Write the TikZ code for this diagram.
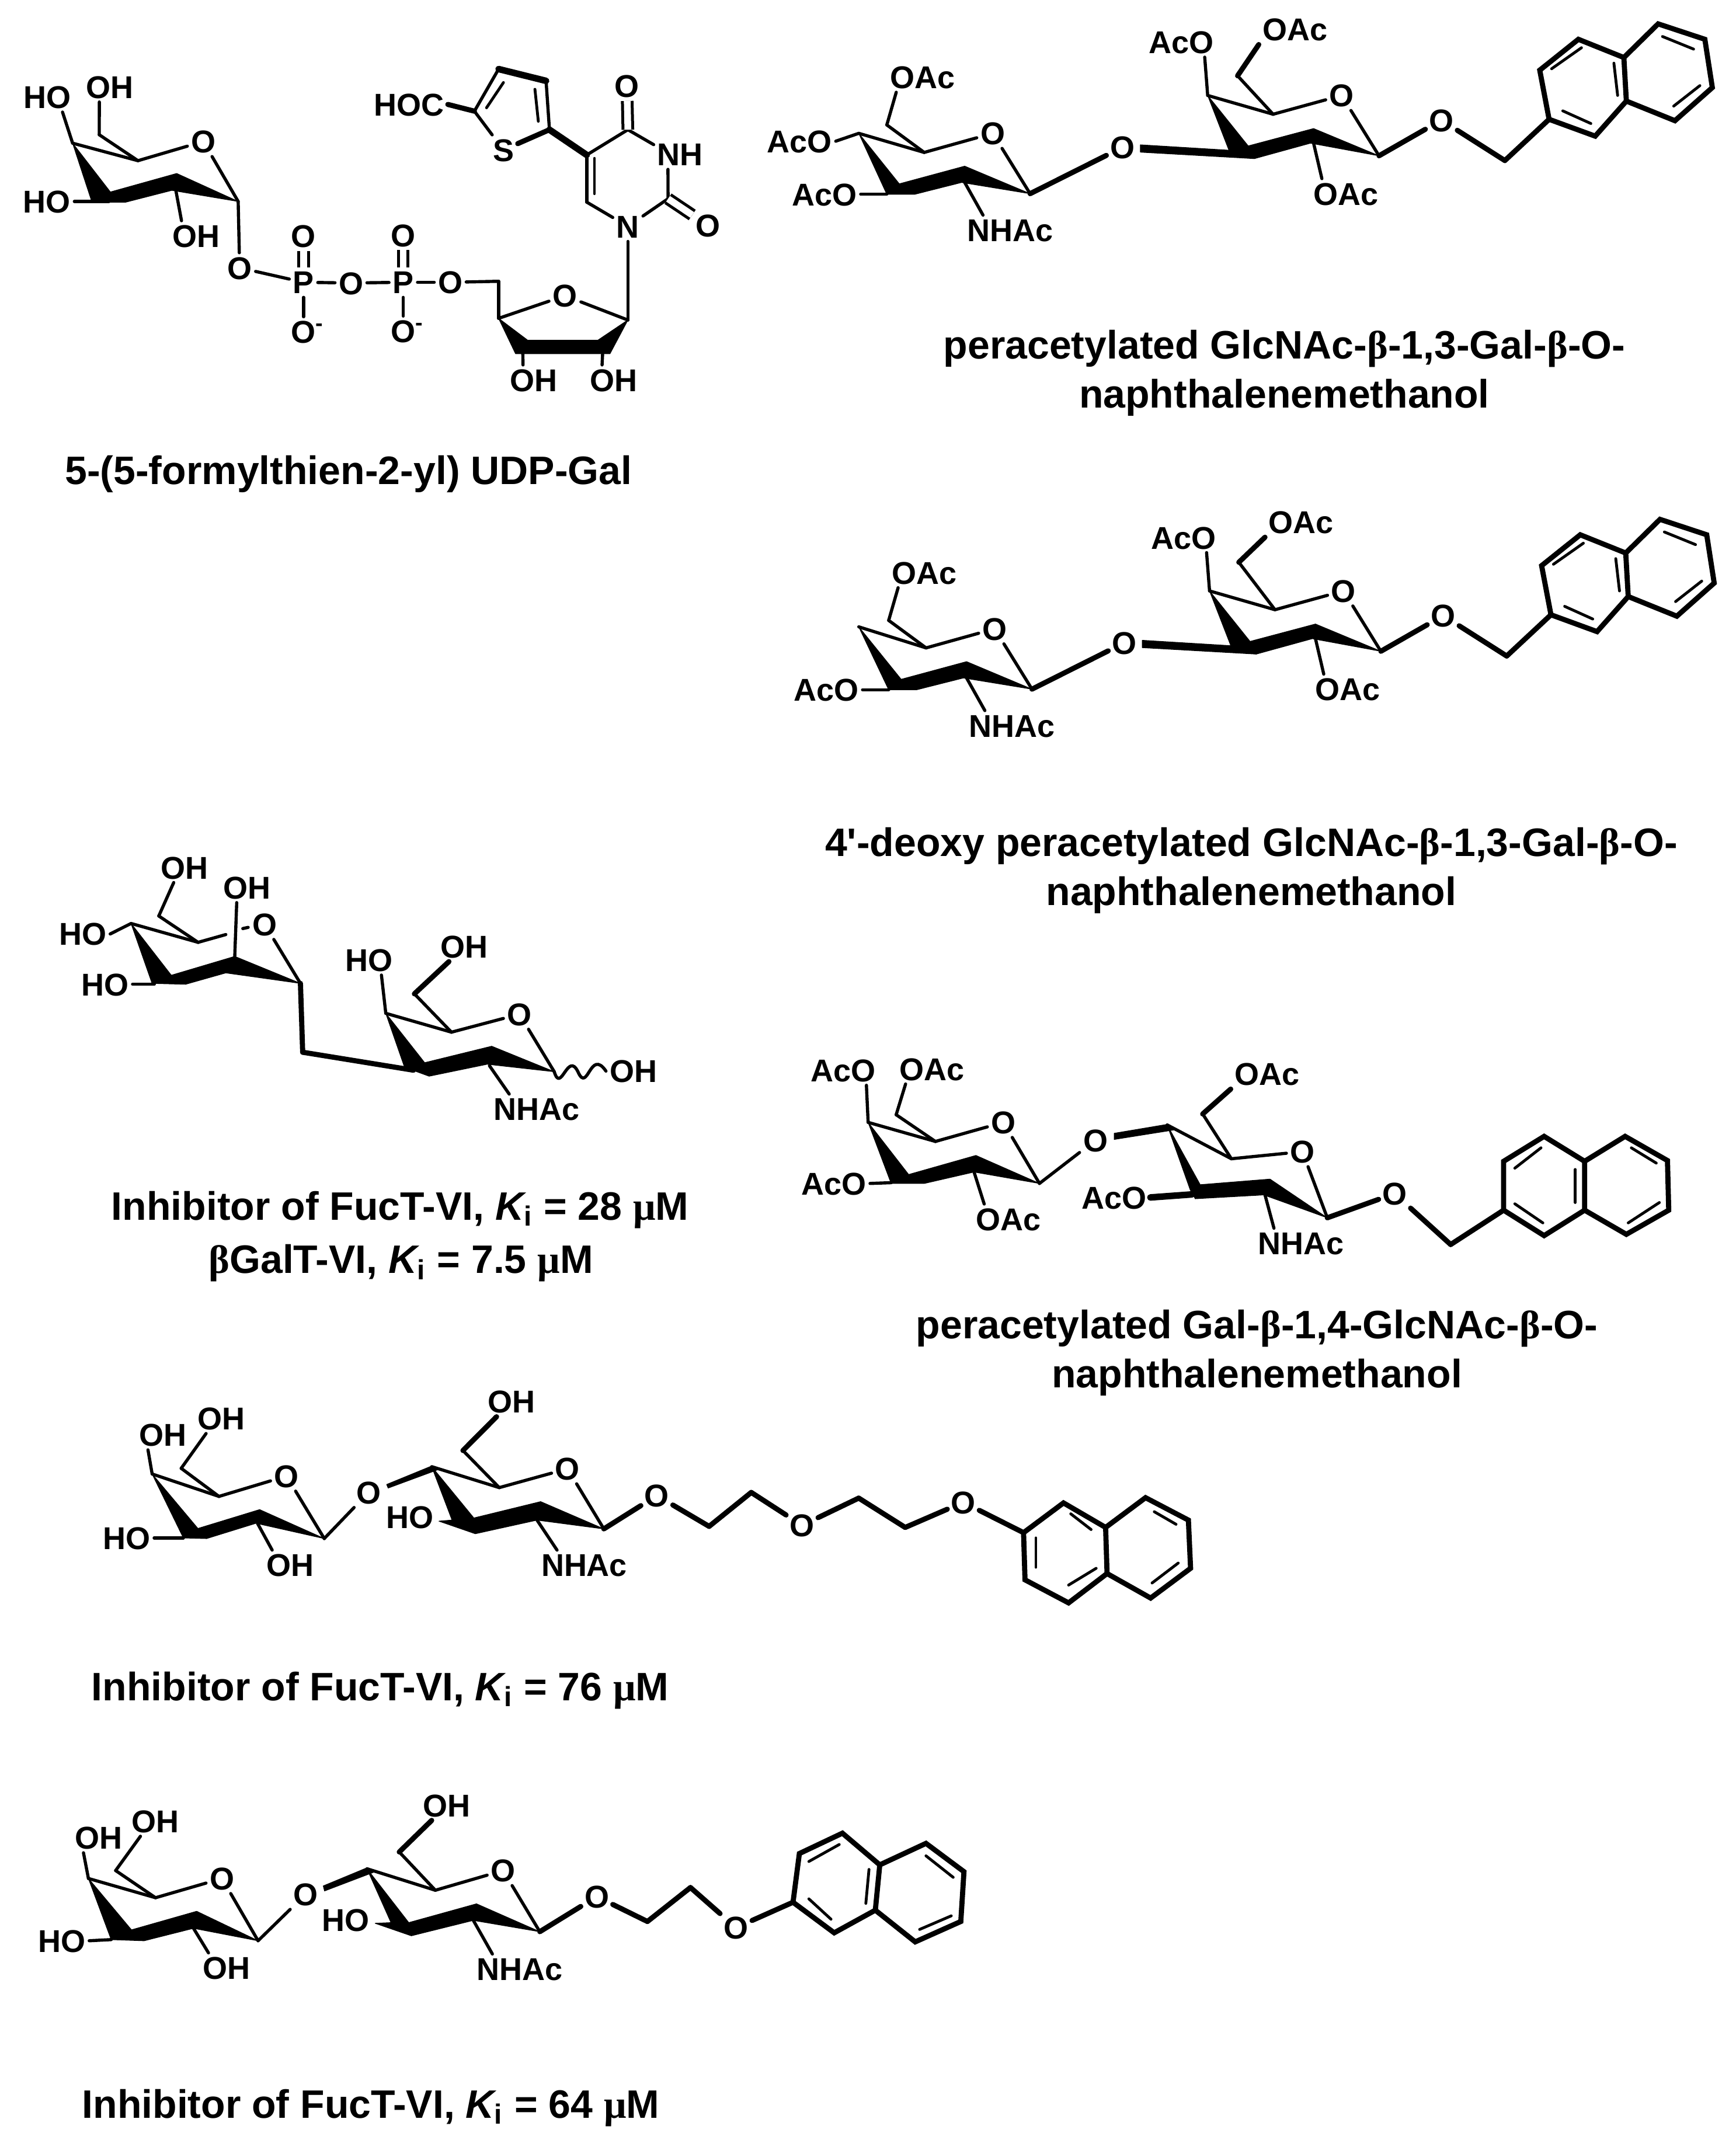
\documentclass[tikz,border=0pt]{standalone}
\usepackage{fontspec}
\setmainfont{Liberation Sans}
\newfontfamily\grk{Liberation Serif}
\newfontfamily\nomap{Liberation Sans}
\newcommand\Lb[3]{\node[lbl] (#1) at (#2) {#3};}
\newcommand\Cc[2]{\coordinate (#1) at (#2);}
\newcommand\Be{{\grk β}}
\newcommand\Mu{{\grk μ}}
\newcommand\Ki{{\itshape K}\textsubscript{\normalfont\bfseries i}}
\newcommand\Om{O\rlap{\textsuperscript{-}}}
\tikzset{
 panel/.style n args={4}{shift={(#1*0.25pt,-#2*0.25pt)},x=#3*0.25pt/1568,y=-#4*0.25pt/1560},
 lbl/.style={font=\fontsize{13.5}{14}\selectfont\bfseries,inner sep=1.4pt,text height=9.7pt,text depth=0pt},
 capt/.style={font=\fontsize{17}{19}\selectfont\bfseries,anchor=base,inner sep=0pt},
 bond/.style={line width=1.35pt,line cap=round,line join=round},
 bondm/.style={line width=2.2pt,line cap=round,line join=round},
 bondt/.style={line width=2.8pt,line cap=round,line join=round},
 dbl/.style={line width=1.25pt,double distance=2.9pt},
 inner/.style={line width=1.2pt,line cap=round},
 wedge/.style={fill=black,draw=black,line width=.3pt,line join=round},
}
% shared body of the two GlcNAc-Gal naphthalenemethanol structures
\newcommand\Disacc[4]{% prefix, g4 position, h6 position, OAc2 position
 \Lb{#1oa1}{262,275}{OAc} \Lb{#1ao2}{105,692}{AcO} \Lb{#1nh}{403,820}{NHAc}
 \Lb{#1ro}{375,475}{O} \Lb{#1og}{583,525}{O} \Lb{#1ao3}{678,150}{AcO}
 \Lb{#1oa2}{#4}{OAc} \Lb{#1ro2}{935,340}{O} \Lb{#1oa3}{942,690}{OAc} \Lb{#1oe}{1095,428}{O}
 \Cc{#1g4}{#2} \Cc{#1g5}{265,543} \Cc{#1g6}{205,445} \Cc{#1g2}{330,592} \Cc{#1g1}{435,690}
 \Cc{#1g3}{205,692} \Cc{#1gn}{330,650}
 \Cc{#1h4}{720,340} \Cc{#1h5}{825,407} \Cc{#1h6}{#3} \Cc{#1h2}{890,458} \Cc{#1h1}{995,555}
 \Cc{#1hn}{890,510} \Cc{#1ch}{1197,572} \Cc{#1nf}{1268,425}
 \fill[wedge] (#1g4) -- (#1g3) -- (250,692) -- (325,650) -- (#1g1) -- (#1g2) -- (225,655) -- cycle;
 \fill[wedge] (#1h4) -- (755,540) -- (795,565) -- (885,510) -- (#1h1) -- (#1h2) -- (785,520) -- cycle;
 \fill[wedge] (612,516) -- (760,536) -- (795,565) -- (612,542) -- cycle;
 \draw[bond] (#1g4) -- (#1g5); \draw[bond] (#1g5) -- (#1ro); \draw[bond] (#1ro) -- (#1g1);
 \draw[bond] (#1g5) -- (#1g6); \draw[bond] (#1g6) -- (#1oa1.210);
 \draw[bond] (#1ao2.east) -- (#1g3); \draw[bond] (#1gn) -- (#1nh.151);
 \draw[bondm] (#1g1) -- (#1og);
 \draw[bond] (#1h4) -- (#1h5); \draw[bond] (#1h5) -- (#1ro2); \draw[bond] (#1ro2) -- (#1h1);
 \draw[bond] (#1h4) -- (#1ao3.-33); \draw[bond] (#1h5) -- (#1h6); \draw[bondm] (#1h6) -- (#1oa2.south west);
 \draw[bond] (#1hn) -- (#1oa3.148); \draw[bondm] (#1h1) -- (#1oe);
 \draw[bondm] (#1oe) -- (#1ch); \draw[bondm] (#1ch) -- (#1nf);
 \draw[bondm,line join=miter] (#1nf) -- (1253,250) -- (1315,140) -- (1388,205) -- (1392,360) -- (1342,485) -- cycle;
 \draw[bondm,line join=miter] (1388,205) -- (1443,85) -- (1518,140) -- (1530,312) -- (1470,430) -- (1392,360);
 \draw[inner] (1272,245) -- (1320,170); \draw[inner] (1372,225) -- (1378,340); \draw[inner] (1290,395) -- (1335,440);
 \draw[inner] (1450,130) -- (1500,175); \draw[inner] (1510,305) -- (1468,378);
}
\begin{document}
\begin{tikzpicture}
\useasboundingbox (0,0) rectangle (743.25pt,-916.25pt);
\fill[white] (0,0) rectangle (743.25pt,-916.25pt);

% ---------- A: UDP-Gal
\begin{scope}[panel={0}{0}{1300}{900}]
 \Lb{aho1}{98,288}{HO} \Lb{aoh1}{227,258}{OH} \Lb{aro}{420,420}{O} \Lb{aho2}{97,598}{HO}
 \Lb{aoh2}{405,700}{OH} \Lb{ao1}{495,795}{O} \Lb{ap1}{627,838}{P} \Lb{aod1}{627,700}{O}
 \Lb{aom1}{627,985}{\Om} \Lb{ao2}{725,840}{O} \Lb{ap2}{833,838}{P} \Lb{aod2}{833,698}{O}
 \Lb{aom2}{833,983}{\Om} \Lb{ao3}{930,838}{O} \Lb{aro2}{1167,878}{O} \Lb{aoh3}{1103,1128}{OH}
 \Lb{aoh4}{1268,1128}{OH} \Lb{an1}{1297,672}{N} \Lb{anh}{1405,458}{NH} \Lb{ao6}{1463,670}{O}
 \Lb{ao4}{1295,255}{O} \Lb{as}{1040,445}{S} \Lb{ahoc}{845,310}{HOC}
 \Cc{a4}{150,425} \Cc{a5}{285,477} \Cc{a6}{205,400} \Cc{a1}{492,598} \Cc{a2}{360,540} \Cc{a3}{225,598}
 \Cc{b5}{1030,835} \Cc{b4}{1030,945} \Cc{b1}{1297,950} \Cc{b3}{1080,1045} \Cc{b2}{1245,1045}
 \Cc{c6}{1212,600} \Cc{c5}{1212,460} \Cc{c4}{1297,385} \Cc{c2}{1380,590}
 \Cc{t2}{1135,385} \Cc{t3}{1128,240} \Cc{t4}{1030,205} \Cc{t5}{980,330}
 \fill[wedge] (a4) -- (190,600) -- (260,600) -- (355,565) -- (a1) -- (365,515) -- (228,570) -- cycle;
 \fill[wedge] (b4) -- (1090,1010) -- (1235,1010) -- (b1) -- (1260,1050) -- (1065,1050) -- cycle;
 \draw[bond] (a4) -- (a5); \draw[bond] (a5) -- (aro); \draw[bond] (aro) -- (a1); \draw[bond] (a5) -- (a6);
 \draw[bond] (a6) -- (aoh1.235); \draw[bond] (a4) -- (aho1.-45); \draw[bond] (aho2.east) -- (a3);
 \draw[bond] (a2) -- (aoh2.134); \draw[bond] (a1) -- (ao1); \draw[bond] (ao1) -- (ap1);
 \draw[bond] (ap1) -- (ao2); \draw[bond] (ao2) -- (ap2); \draw[bond] (ap2) -- (ao3);
 \draw[bond] (ap1) -- (aom1); \draw[bond] (ap2) -- (aom2);
 \draw[dbl] (ap1) -- (aod1); \draw[dbl] (ap2) -- (aod2);
 \draw[bond] (ao3) -- (b5); \draw[bond] (b5) -- (b4); \draw[bond] (b4) -- (aro2); \draw[bond] (aro2) -- (b1);
 \draw[bond] (b3) -- (aoh3.126); \draw[bond] (b2) -- (aoh4.128); \draw[bond] (an1) -- (b1);
 \draw[bond] (an1) -- (c6); \draw[bond] (c6) -- (c5); \draw[bond] (c5) -- (c4); \draw[bond] (c4) -- (anh.160);
 \draw[bond] (anh.231) -- (c2); \draw[bond] (c2) -- (an1);
 \draw[inner] (1228,470) -- (1228,575);
 \draw[dbl] (c4) -- (ao4); \draw[dbl] (c2) -- (ao6);
 \draw[bondm] (ahoc.east) -- (t5); \draw[bond] (t5) -- (as); \draw[bondm] (as) -- (t2);
 \draw[bond] (t5) -- (t4); \draw[bondt] (t4) -- (t3); \draw[bond] (t3) -- (t2);
 \draw[bondt] (t2) -- (c5);
 \draw[inner] (1005,320) -- (1040,245); \draw[inner] (1105,265) -- (1112,360);
 \node[capt] (acap) at (720,1438) {5-(5-formylthien-2-yl) UDP-Gal};
\end{scope}

% ---------- B
\begin{scope}[panel={1300}{0}{1673}{750}]
 \Disacc{b}{160,475}{768,270}{860,105}
 \Lb{bao1}{65,503}{AcO}
 \draw[bond] (bao1.east) -- (bg4);
 \node[capt] (bcap1) at (843,1278) {peracetylated GlcNAc-\Be-1,3-Gal-\Be-O-};
 \node[capt] (bcap2) at (843,1452) {naphthalenemethanol};
\end{scope}

% ---------- C
\begin{scope}[panel={1300}{850}{1673}{750}]
 \begin{scope}[shift={(3,-3)}]
 \Disacc{k}{157,468}{767,238}{867,95}
 \end{scope}
 \node[capt] (ccap1) at (790,1283) {4{\nomap\bfseries '}-deoxy peracetylated GlcNAc-\Be-1,3-Gal-\Be-O-};
 \node[capt] (ccap2) at (790,1457) {naphthalenemethanol};
\end{scope}

% ---------- D
\begin{scope}[panel={1300}{1750}{1673}{680}]
 \Lb{dao1}{135,190}{AcO} \Lb{doa1}{277,185}{OAc} \Lb{dro}{392,395}{O} \Lb{dao2}{120,635}{AcO}
 \Lb{dog}{540,465}{O} \Lb{doa3}{400,775}{OAc} \Lb{doa2}{815,205}{OAc} \Lb{dro2}{872,510}{O}
 \Lb{dao3}{570,690}{AcO} \Lb{dnh}{870,870}{NHAc} \Lb{doe}{1020,675}{O}
 \Cc{dg4}{175,395} \Cc{dg5}{283,470} \Cc{dg6}{220,365} \Cc{dg3}{212,632} \Cc{dg2}{345,590} \Cc{dg1}{450,635}
 \Cc{dh4}{655,405} \Cc{dh5}{758,538} \Cc{dh6}{712,362} \Cc{dh1}{912,770} \Cc{dh3}{695,678} \Cc{dh2}{812,680}
 \Cc{dch}{1110,875} \Cc{dnf}{1195,740}
 \fill[wedge] (dg4) -- (212,635) -- (265,635) -- (345,590) -- (dg1) -- (348,525) -- (240,600) -- cycle;
 \fill[wedge] (dh4) -- (692,660) -- (700,695) -- (810,680) -- (dh1) -- (820,618) -- (708,640) -- cycle;
 \fill[wedge] (570,438) -- (655,403) -- (665,425) -- (570,462) -- cycle;
 \draw[bond] (dg4) -- (dg5); \draw[bond] (dg5) -- (dro); \draw[bond] (dro) -- (dg1); \draw[bond] (dg5) -- (dg6);
 \draw[bond] (dg6) -- (doa1.210); \draw[bond] (dg4) -- (dao1.-33); \draw[bond] (dao2.east) -- (dg3);
 \draw[bond] (dg2) -- (doa3.148); \draw[bond] (dg1) -- (dog);
 \draw[bond] (dh4) -- (dh5); \draw[bond] (dh5) -- (dro2); \draw[bond] (dro2) -- (dh1); \draw[bond] (dh5) -- (dh6);
 \draw[bondm] (dh6) -- (doa2.south west); \draw[bondt] (dao3.east) -- (dh3); \draw[bond] (dh2) -- (dnh.151);
 \draw[bondm] (dh1) -- (doe); \draw[bondm] (doe) -- (dch); \draw[bondm] (dch) -- (dnf);
 \draw[bondm,line join=miter] (dnf) -- (1195,548) -- (1260,450) -- (1325,548) -- (1325,740) -- (1260,840) -- cycle;
 \draw[bondm,line join=miter] (1325,548) -- (1390,450) -- (1458,545) -- (1460,740) -- (1392,835) -- (1325,740);
 \draw[inner] (1213,575) -- (1255,495); \draw[inner] (1310,580) -- (1310,710); \draw[inner] (1213,715) -- (1258,790);
 \draw[inner] (1400,495) -- (1440,555); \draw[inner] (1445,710) -- (1395,790);
 \node[capt] (dcap1) at (799,1245) {peracetylated Gal-\Be-1,4-GlcNAc-\Be-O-};
 \node[capt] (dcap2) at (799,1437) {naphthalenemethanol};
\end{scope}

% ---------- E
\begin{scope}[panel={50}{1420}{1200}{800}]
 \Lb{eoh1}{347,128}{OH} \Lb{eoh2}{488,195}{OH} \Lb{eho1}{120,350}{HO} \Lb{ero}{527,318}{O}
 \Lb{eho2}{170,518}{HO} \Lb{eho3}{760,437}{HO} \Lb{eoh3}{973,392}{OH} \Lb{ero2}{1097,618}{O}
 \Lb{eoh4}{1352,808}{OH} \Lb{enh}{1135,935}{NHAc}
 \Cc{eg4}{228,315} \Cc{eg5}{378,378} \Cc{eg6}{290,290} \Cc{eg1}{607,515} \Cc{eg2}{460,425} \Cc{eg3}{280,518}
 \Cc{eg5b}{440,352} \Cc{ech}{612,745} \Cc{eh3}{860,805}
 \Cc{eh4}{798,615} \Cc{eh5}{945,678} \Cc{eh6}{862,550} \Cc{eh2}{1030,790} \Cc{eh1}{1175,810}
 \fill[wedge] (eg4) -- (275,515) -- (350,518) -- (440,480) -- (eg1) -- (460,425) -- (318,488) -- cycle;
 \fill[wedge] (eh4) -- (840,795) -- (895,825) -- (1025,785) -- (eh1) -- (1035,725) -- (885,780) -- cycle;
 \draw[bond] (eg4) -- (eg5); \draw[bond] (eg5) -- (eg6); \draw[bond] (eg6) -- (eoh1.235);
 \draw[bond] (eg5) -- (eg5b); \draw[bond] (478,332) -- (490,328);
 \draw[bond] (eg2) -- (eoh2.235); \draw[bond] (ero) -- (eg1);
 \draw[bond] (eho1.east) -- (eg4); \draw[bond] (eho2.east) -- (eg3);
 \draw[bondm] (eg1) -- (ech); \draw[bondm] (ech) -- (eh3);
 \draw[bond] (eh4) -- (eh5); \draw[bond] (eh5) -- (eh6); \draw[bondm] (eh6) -- (eoh3.225);
 \draw[bond] (eh5) -- (ero2); \draw[bond] (ero2) -- (eh1);
 \draw[bond] (eh4) -- (eho3.-50); \draw[bond] (eh2) -- (enh.151);
 \draw[bond] (eh1) .. controls (1190,885) and (1205,740) .. (1228,810)
   .. controls (1250,885) and (1255,730) .. (eoh4.west);
 \node[capt] (ecap1) at (830,1305) {Inhibitor of FucT-VI, \Ki{} = 28 \Mu M};
 \node[capt] (ecap2) at (832,1483) {\Be GalT-VI, \Ki{} = 7.5 \Mu M};
\end{scope}

% ---------- F
\begin{scope}[panel={130}{2370}{1950}{560}]
 \Lb{foh1}{120,243}{OH} \Lb{foh2}{200,165}{OH} \Lb{fro}{290,440}{O} \Lb{fho1}{70,735}{HO}
 \Lb{foh3}{295,865}{OH} \Lb{fog}{403,518}{O} \Lb{fho2}{460,635}{HO} \Lb{foh4}{600,85}{OH}
 \Lb{fro2}{677,405}{O} \Lb{fnh}{700,865}{NHAc} \Lb{foe}{800,533}{O} \Lb{foe2}{1000,675}{O}
 \Lb{foe3}{1222,565}{O}
 \Cc{fg4}{105,430} \Cc{fg5}{197,537} \Cc{fg6}{145,403} \Cc{fg3}{148,735} \Cc{fg2}{250,665} \Cc{fg1}{342,738}
 \Cc{fh4}{490,395} \Cc{fh5}{583,495} \Cc{fh6}{533,318} \Cc{fh2}{635,650} \Cc{fh1}{727,692}
 \Cc{fc1}{872,680} \Cc{fc2}{930,518} \Cc{fc3}{1078,545} \Cc{fc4}{1142,685} \Cc{fnf}{1305,710}
 \fill[wedge] (fg4) -- (148,735) -- (180,738) -- (248,665) -- (fg1) -- (253,600) -- (168,690) -- cycle;
 \fill[wedge] (fh4) -- (518,650) -- (500,655) -- (550,715) -- (635,650) -- (fh1) -- (640,562) -- (548,640) -- cycle;
 \fill[wedge] (428,480) -- (490,392) -- (498,410) -- (430,497) -- cycle;
 \draw[bond] (fg4) -- (fg5); \draw[bond] (fg5) -- (fg6); \draw[bond] (fg5) -- (fro); \draw[bond] (fro) -- (fg1);
 \draw[bond] (fg4) -- (foh1.225); \draw[bond] (fg6) -- (foh2.225); \draw[bond] (fho1.east) -- (fg3);
 \draw[bond] (fg2) -- (foh3.140); \draw[bond] (fg1) -- (fog);
 \draw[bond] (fh4) -- (fh5); \draw[bond] (fh5) -- (fh6); \draw[bondm] (fh6) -- (foh4.225);
 \draw[bond] (fh5) -- (fro2); \draw[bond] (fro2) -- (fh1); \draw[bond] (fh2) -- (fnh.151);
 \draw[bondm] (fh1) -- (foe); \draw[bondm] (foe) -- (fc1); \draw[bondm] (fc1) -- (fc2); \draw[bondm] (fc2) -- (foe2);
 \draw[bondm] (foe2) -- (fc3); \draw[bondm] (fc3) -- (fc4); \draw[bondm] (fc4) -- (foe3); \draw[bondm] (foe3) -- (fnf);
 \draw[bondm,line join=miter] (fnf) -- (1360,568) -- (1418,685) -- (1420,905) -- (1367,1045) -- (1307,935) -- cycle;
 \draw[bondm,line join=miter] (1418,685) -- (1473,543) -- (1532,650) -- (1535,880) -- (1480,1022) -- (1420,905);
 \draw[inner] (1322,735) -- (1322,875); \draw[inner] (1370,620) -- (1398,695); \draw[inner] (1367,960) -- (1405,880);
 \draw[inner] (1485,610) -- (1515,670); \draw[inner] (1518,855) -- (1482,950);
 \node[capt] (fcap) at (419,1510) {Inhibitor of FucT-VI, \Ki{} = 76 \Mu M};
\end{scope}

% ---------- G
\begin{scope}[panel={30}{3060}{1700}{605}]
 \Lb{goh1}{128,225}{OH} \Lb{goh2}{218,152}{OH} \Lb{gro}{323,405}{O} \Lb{gho1}{70,680}{HO}
 \Lb{goh3}{330,800}{OH} \Lb{gog}{455,475}{O} \Lb{gho2}{518,588}{HO} \Lb{goh4}{678,82}{OH}
 \Lb{gro2}{767,370}{O} \Lb{gnh}{793,805}{NHAc} \Lb{goe}{915,485}{O} \Lb{goe2}{1135,622}{O}
 \Cc{gg4}{112,405} \Cc{gg5}{218,490} \Cc{gg6}{155,370} \Cc{gg3}{148,675} \Cc{gg2}{278,625} \Cc{gg1}{380,680}
 \Cc{gh4}{552,362} \Cc{gh5}{660,457} \Cc{gh6}{603,288} \Cc{gh2}{720,590} \Cc{gh1}{825,640}
 \Cc{gc1}{995,595} \Cc{gc2}{1063,445} \Cc{gnf}{1225,510}
 \fill[wedge] (gg4) -- (148,675) -- (200,680) -- (278,625) -- (gg1) -- (283,550) -- (180,632) -- cycle;
 \fill[wedge] (gh4) -- (590,600) -- (565,603) -- (622,658) -- (720,590) -- (gh1) -- (725,517) -- (618,600) -- cycle;
 \fill[wedge] (483,438) -- (552,358) -- (562,378) -- (485,460) -- cycle;
 \draw[bond] (gg4) -- (gg5); \draw[bond] (gg5) -- (gg6); \draw[bond] (gg5) -- (gro); \draw[bond] (gro) -- (gg1);
 \draw[bond] (gg4) -- (goh1.225); \draw[bond] (gg6) -- (goh2.225); \draw[bond] (gho1.east) -- (gg3);
 \draw[bond] (gg2) -- (goh3.140); \draw[bond] (gg1) -- (gog);
 \draw[bond] (gh4) -- (gh5); \draw[bond] (gh5) -- (gh6); \draw[bondm] (gh6) -- (goh4.225);
 \draw[bond] (gh5) -- (gro2); \draw[bond] (gro2) -- (gh1); \draw[bond] (gh2) -- (gnh.151);
 \draw[bondm] (gh1) -- (goe); \draw[bondm] (goe) -- (gc1); \draw[bondm] (gc1) -- (gc2); \draw[bondm] (gc2) -- (goe2);
 \draw[bondm] (goe2) -- (gnf);
 \draw[bondm,line join=miter] (gnf) -- (1235,295) -- (1303,205) -- (1362,345) -- (1355,545) -- (1290,645) -- cycle;
 \draw[bondm,line join=miter] (1362,345) -- (1435,250) -- (1495,375) -- (1490,595) -- (1418,685) -- (1355,545);
 \draw[inner] (1250,330) -- (1298,255); \draw[inner] (1345,365) -- (1340,515); \draw[inner] (1250,495) -- (1285,585);
 \draw[inner] (1435,305) -- (1478,400); \draw[inner] (1475,570) -- (1425,630);
 \node[capt] (gcap) at (558,1462) {Inhibitor of FucT-VI, \Ki{} = 64 \Mu M};
\end{scope}
\end{tikzpicture}
\end{document}
